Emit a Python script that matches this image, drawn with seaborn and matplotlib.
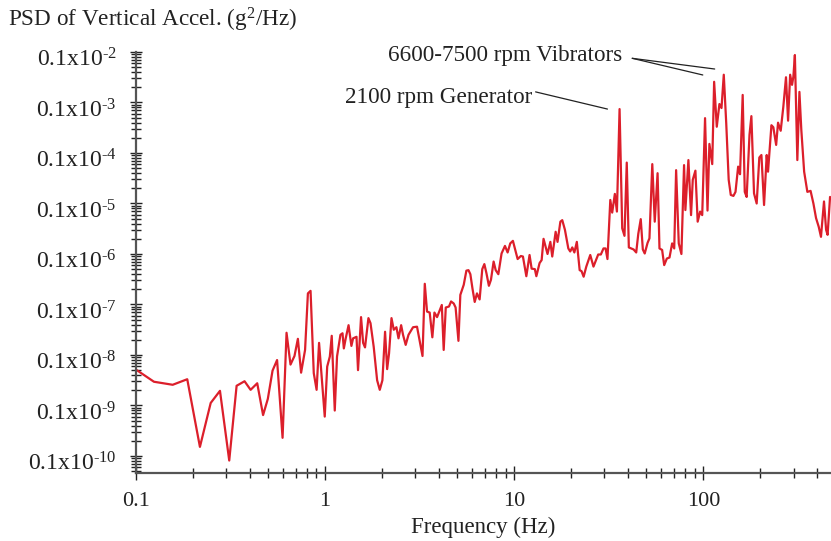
import numpy as np
import pandas as pd
import matplotlib
matplotlib.use("Agg")
import matplotlib.pyplot as plt
import matplotlib.transforms as mtransforms
import seaborn as sns
from matplotlib.ticker import LogLocator, NullFormatter, FixedLocator, FixedFormatter

# ---------------- data (log10 units) ----------------
log10_freq = [
    -0.996, -0.905, -0.806, -0.729, -0.662, -0.605, -0.556, -0.507, -0.468, -0.426,
    -0.394, -0.359, -0.328, -0.303, -0.278, -0.254, -0.225, -0.204, -0.183, -0.162,
    -0.144, -0.127, -0.106, -0.091, -0.077, -0.060, -0.045, -0.032, -0.002, 0.011,
    0.025, 0.035, 0.051, 0.063, 0.081, 0.092, 0.099, 0.109, 0.124, 0.139,
    0.148, 0.166, 0.174, 0.190, 0.201, 0.211, 0.229, 0.240, 0.257, 0.275,
    0.289, 0.303, 0.317, 0.328, 0.338, 0.351, 0.363, 0.377, 0.388, 0.402,
    0.412, 0.426, 0.441, 0.465, 0.486, 0.515, 0.527, 0.539, 0.553, 0.567,
    0.578, 0.592, 0.617, 0.627, 0.638, 0.655, 0.666, 0.680, 0.690, 0.705,
    0.715, 0.733, 0.747, 0.758, 0.768, 0.779, 0.791, 0.803, 0.817, 0.831,
    0.842, 0.853, 0.866, 0.877, 0.891, 0.902, 0.916, 0.933, 0.951, 0.965,
    0.979, 0.993, 1.002, 1.018, 1.035, 1.046, 1.064, 1.081, 1.092, 1.109,
    1.117, 1.134, 1.145, 1.155, 1.166, 1.176, 1.191, 1.201, 1.219, 1.229,
    1.244, 1.254, 1.268, 1.286, 1.296, 1.307, 1.318, 1.331, 1.346, 1.356,
    1.367, 1.381, 1.402, 1.419, 1.444, 1.458, 1.472, 1.483, 1.493, 1.508,
    1.518, 1.532, 1.543, 1.557, 1.571, 1.583, 1.595, 1.606, 1.631, 1.645,
    1.656, 1.669, 1.680, 1.690, 1.705, 1.715, 1.730, 1.743, 1.758, 1.768,
    1.782, 1.793, 1.807, 1.821, 1.835, 1.846, 1.856, 1.870, 1.884, 1.898,
    1.905, 1.921, 1.935, 1.944, 1.958, 1.970, 1.983, 1.994, 2.009, 2.022,
    2.032, 2.047, 2.057, 2.071, 2.085, 2.096, 2.108, 2.121, 2.134, 2.145,
    2.159, 2.170, 2.184, 2.194, 2.208, 2.219, 2.229, 2.244, 2.254, 2.268,
    2.282, 2.296, 2.307, 2.321, 2.335, 2.342, 2.360, 2.370, 2.385, 2.395,
    2.409, 2.423, 2.437, 2.448, 2.459, 2.469, 2.476, 2.484, 2.497, 2.508,
    2.518, 2.533, 2.550, 2.567, 2.582, 2.596, 2.610, 2.622, 2.638, 2.649,
    2.657, 2.670,
]

log10_psd = [
    -9.30, -9.53, -9.59, -9.48, -10.82, -9.95, -9.71, -11.09, -9.61, -9.52,
    -9.69, -9.56, -10.19, -9.87, -9.31, -9.10, -10.64, -8.56, -9.19, -9.02,
    -8.68, -9.35, -8.90, -7.78, -7.73, -9.36, -9.69, -8.76, -10.22, -9.23,
    -9.03, -8.62, -10.10, -9.03, -8.60, -8.57, -8.87, -8.67, -8.41, -8.82,
    -8.67, -8.64, -9.30, -8.25, -8.76, -8.85, -8.27, -8.37, -8.84, -9.50,
    -9.69, -9.50, -8.54, -9.28, -8.97, -8.27, -8.50, -8.45, -8.67, -8.41,
    -8.60, -8.80, -8.60, -8.45, -8.44, -9.02, -7.59, -8.14, -8.16, -8.65,
    -8.16, -8.25, -8.01, -8.90, -8.06, -8.04, -7.94, -7.98, -8.06, -8.72,
    -7.81, -7.61, -7.33, -7.32, -7.40, -7.68, -7.95, -7.78, -7.90, -7.30,
    -7.20, -7.38, -7.63, -7.51, -7.15, -7.32, -7.40, -6.99, -6.84, -6.97,
    -6.79, -6.74, -6.87, -7.10, -7.04, -7.05, -7.44, -7.02, -7.29, -7.30,
    -7.44, -7.18, -7.12, -6.70, -6.86, -7.00, -6.76, -7.05, -6.56, -6.76,
    -6.36, -6.33, -6.52, -6.89, -6.95, -6.87, -6.97, -6.76, -7.32, -7.34,
    -7.45, -7.25, -7.02, -7.25, -7.01, -7.01, -6.89, -6.89, -7.10, -5.93,
    -6.18, -5.81, -6.16, -4.13, -6.49, -6.64, -5.19, -6.87, -6.91, -6.97,
    -6.60, -6.31, -6.91, -6.99, -6.78, -6.69, -5.22, -6.36, -5.40, -6.89,
    -6.92, -7.22, -7.09, -7.07, -6.79, -6.89, -5.34, -6.79, -7.00, -5.24,
    -6.13, -5.14, -6.23, -5.53, -5.35, -6.36, -6.16, -6.23, -4.31, -6.14,
    -4.82, -5.22, -3.59, -4.48, -4.03, -4.11, -3.45, -4.41, -5.53, -5.83,
    -5.85, -5.77, -5.27, -5.42, -3.85, -5.77, -5.87, -4.64, -4.27, -5.80,
    -6.00, -5.09, -5.04, -6.03, -5.04, -5.37, -4.45, -4.49, -4.84, -4.40,
    -4.56, -4.08, -3.50, -4.36, -3.45, -3.65, -3.49, -3.06, -5.14, -3.79,
    -4.54, -5.37, -5.77, -5.75, -6.00, -6.29, -6.46, -6.66, -5.96, -6.52,
    -6.62, -5.87,
]

xtick_values = [0.1, 1, 10, 100]
xtick_labels = ["0.1", "1", "10", "100"]
ytick_values = [1e-3, 1e-4, 1e-5, 1e-6, 1e-7, 1e-8, 1e-9, 1e-10, 1e-11]
ytick_labels = [r"0.1x10$^{\text{-%d}}$" % k for k in range(2, 11)]

title_text = r"PSD of Vertical Accel. (g$^{\text{2}}$/Hz)"
xlabel_text = "Frequency (Hz)"
gen_text = "2100 rpm Generator"
vib_text = "6600-7500 rpm Vibrators"

df = pd.DataFrame({
    "freq": 10 ** np.array(log10_freq),
    "psd": 10 ** np.array(log10_psd),
})

# ---------------- style ----------------
sns.set_style("ticks")
plt.rcParams["font.family"] = ["Liberation Serif", "DejaVu Serif"]
plt.rcParams["mathtext.fontset"] = "custom"
plt.rcParams["mathtext.rm"] = "Liberation Serif"
plt.rcParams["mathtext.it"] = "Liberation Serif:italic"
plt.rcParams["mathtext.bf"] = "Liberation Serif:bold"
plt.rcParams["axes.unicode_minus"] = False

W, H = 831, 541
fig = plt.figure(figsize=(W / 100, H / 100), dpi=100)
ax = fig.add_axes([136 / W, 68 / H, (W - 136) / W, (473 - 52) / H])

sns.lineplot(data=df, x="freq", y="psd", ax=ax, sort=False, estimator=None,
             color="#dc1f2b", linewidth=1.6)

ax.set_xscale("log")
ax.set_yscale("log")
ax.set_xlim(0.1, 10 ** 2.675)
ax.set_ylim(10 ** -11.337, 1e-3)

ax.xaxis.set_major_locator(FixedLocator(xtick_values))
ax.xaxis.set_major_formatter(FixedFormatter(xtick_labels))
ax.xaxis.set_minor_locator(LogLocator(base=10, subs=np.arange(2, 10), numticks=100))
ax.xaxis.set_minor_formatter(NullFormatter())
ax.yaxis.set_major_locator(FixedLocator(ytick_values))
ax.yaxis.set_major_formatter(FixedFormatter(ytick_labels))
ax.yaxis.set_minor_locator(LogLocator(base=10, subs=np.arange(2, 10), numticks=100))
ax.yaxis.set_minor_formatter(NullFormatter())

spine_col = "#555555"
for s in ["top", "right"]:
    ax.spines[s].set_visible(False)
for s in ["left", "bottom"]:
    ax.spines[s].set_color(spine_col)
    ax.spines[s].set_linewidth(1.6)

ax.tick_params(axis="both", which="both", bottom=True, left=True, top=False, right=False)
ax.tick_params(axis="x", which="major", direction="inout", length=10, width=1.0,
               color="#222222", labelsize=16, pad=9, labelcolor="#222222")
ax.tick_params(axis="x", which="minor", direction="inout", length=7, width=1.0,
               color="#222222")
ax.tick_params(axis="y", which="major", direction="inout", length=8, width=1.0,
               color="#222222", labelsize=17, pad=10, labelcolor="#222222")
ax.tick_params(axis="y", which="minor", direction="inout", length=7, width=1.0,
               color="#222222")

# nudge the y tick labels slightly downward as in the reference
offset = mtransforms.ScaledTranslation(0, -4 / 72, fig.dpi_scale_trans)
for lbl in ax.get_yticklabels():
    lbl.set_transform(lbl.get_transform() + offset)

ax.set_xlabel(xlabel_text, fontsize=16.5, color="#222222", labelpad=4)
ax.set_ylabel("")
fig.text(8 / W, 1 - 20 / H, title_text, fontsize=16.7, color="#222222",
         ha="left", va="center")

# ---------------- annotations ----------------
ax.text(10 ** 1.097, 10 ** -3.91, gen_text, fontsize=16.7, color="#222222",
        ha="right", va="center")
ax.annotate("", xy=(10 ** 1.493, 10 ** -4.13), xytext=(10 ** 1.113, 10 ** -3.79),
            arrowprops=dict(arrowstyle="-", color="#222222", lw=0.9,
                            shrinkA=0, shrinkB=0))
ax.text(10 ** 1.573, 10 ** -3.06, vib_text, fontsize=16.7, color="#222222",
        ha="right", va="center", clip_on=False)
for end in [(10 ** 2.060, 10 ** -3.337), (10 ** 1.997, 10 ** -3.455)]:
    ax.annotate("", xy=end, xytext=(10 ** 1.624, 10 ** -3.125),
                arrowprops=dict(arrowstyle="-", color="#222222", lw=0.9,
                                shrinkA=0, shrinkB=0), annotation_clip=False)

fig.savefig("out.png", dpi=100)
